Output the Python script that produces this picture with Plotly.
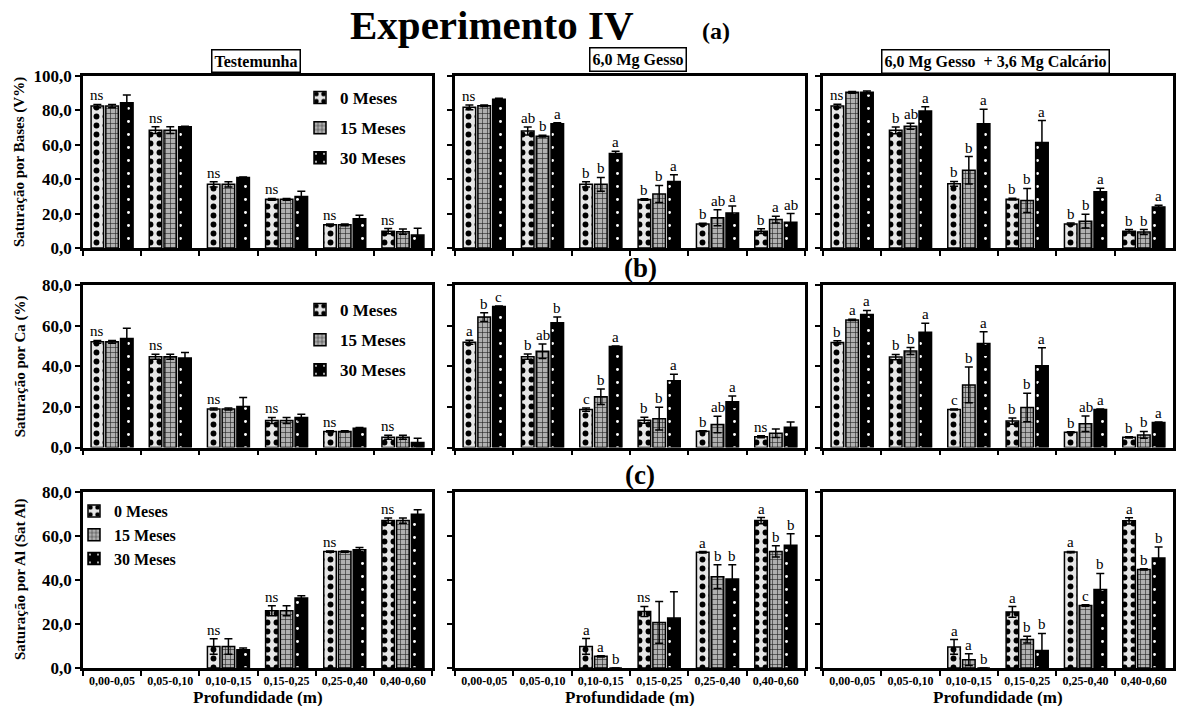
import plotly.graph_objects as go
from plotly.subplots import make_subplots

# Soil layers (m) and sampling times
depths = ["0,00-0,05", "0,05-0,10", "0,10-0,15", "0,15-0,25", "0,25-0,40", "0,40-0,60"]
months = ["0 Meses", "15 Meses", "30 Meses"]
treatments = ["Testemunha", "6,0 Mg Gesso", "6,0 Mg Gesso  + 3,6 Mg Calcário"]

# (a) Saturação por bases, V% -- one inner list per sampling time
vb_test = [[82.5, 68.5, 37.0, 28.3, 13.5, 9.8],
           [82.5, 68.5, 37.0, 28.3, 13.5, 9.5],
           [84.5, 70.5, 41.0, 30.0, 17.0, 7.5]]
eb_test = [[1.0, 2.0, 1.5, 0.5, 0.5, 1.5],
           [1.0, 2.0, 1.5, 0.5, 0.5, 1.5],
           [4.5, 0.3, 0.3, 3.0, 2.0, 4.0]]
lb_test = [["ns", "ns", "ns", "ns", "ns", "ns"], [""] * 6, [""] * 6]

vb_gesso = [[81.8, 68.0, 37.0, 28.2, 13.9, 9.8],
            [82.7, 65.0, 37.0, 31.4, 17.6, 16.5],
            [86.5, 72.3, 55.0, 38.6, 20.4, 15.0]]
eb_gesso = [[1.4, 2.3, 1.5, 0.5, 0.5, 1.4],
            [0.5, 0.5, 4.0, 5.0, 4.7, 2.0],
            [0.5, 0.5, 1.2, 4.0, 4.0, 5.0]]
lb_gesso = [["ns", "ab", "b", "b", "b", "b"],
            ["", "b", "b", "b", "ab", "a"],
            ["", "a", "a", "a", "a", "ab"]]

vb_gc = [[82.6, 68.4, 37.3, 28.4, 14.0, 9.7],
         [90.5, 70.8, 45.2, 27.6, 15.6, 9.3],
         [90.5, 79.7, 72.2, 61.3, 32.7, 23.9]]
eb_gc = [[1.0, 2.0, 1.4, 0.5, 0.5, 1.0],
         [0.5, 1.8, 8.0, 7.0, 4.0, 1.4],
         [0.8, 2.4, 8.5, 12.8, 2.0, 1.0]]
lb_gc = [["ns", "b", "b", "b", "b", "b"],
         ["", "ab", "b", "b", "b", "b"],
         ["", "a", "a", "a", "a", "a"]]

# (b) Saturação por Ca (%)
vc_test = [[52.0, 44.7, 18.9, 13.3, 7.9, 5.0],
           [52.0, 44.7, 18.9, 13.3, 7.9, 5.0],
           [53.7, 44.0, 20.2, 14.8, 9.5, 2.5]]
ec_test = [[0.7, 1.2, 0.5, 1.5, 0.3, 1.0],
           [0.7, 1.2, 0.5, 1.5, 0.3, 1.0],
           [5.0, 2.8, 4.4, 1.6, 0.3, 2.0]]
lc_test = [["ns", "ns", "ns", "ns", "ns", "ns"], [""] * 6, [""] * 6]

vc_gesso = [[51.8, 44.7, 18.7, 13.4, 8.0, 5.3],
            [64.2, 47.4, 25.0, 14.2, 11.3, 7.0],
            [69.4, 61.4, 49.7, 32.8, 22.5, 10.0]]
ec_gesso = [[1.0, 1.3, 0.8, 1.5, 0.3, 0.5],
            [2.2, 3.6, 3.8, 5.6, 4.1, 2.1],
            [0.3, 2.8, 0.3, 3.3, 2.8, 2.5]]
lc_gesso = [["a", "b", "c", "b", "b", "ns"],
            ["b", "ab", "b", "b", "ab", ""],
            ["c", "b", "a", "a", "a", ""]]

vc_gc = [[51.7, 44.5, 18.7, 13.0, 7.5, 5.0],
         [62.8, 47.5, 30.8, 19.7, 11.7, 6.2],
         [65.5, 56.7, 51.2, 40.3, 18.7, 12.3]]
ec_gc = [[0.8, 1.3, 0.3, 1.5, 0.3, 0.3],
         [0.3, 1.7, 8.8, 7.0, 3.8, 1.7],
         [2.0, 4.5, 5.8, 8.8, 0.3, 0.3]]
lc_gc = [["b", "b", "c", "b", "b", "b"],
         ["a", "b", "b", "b", "ab", "b"],
         ["a", "a", "a", "a", "a", "a"]]

# (c) Saturação por Al (Sat Al)
va_test = [[None, None, 9.8, 26.0, 52.9, 67.0],
           [None, None, 9.8, 26.0, 52.9, 67.0],
           [None, None, 8.3, 31.8, 53.8, 69.9]]
ea_test = [[0, 0, 3.5, 2.3, 0.3, 1.2],
           [0, 0, 3.5, 2.3, 0.3, 1.2],
           [0, 0, 0.8, 1.0, 1.0, 2.0]]
la_test = [["", "", "ns", "ns", "ns", "ns"], [""] * 6, [""] * 6]

va_gesso = [[None, None, 9.8, 25.7, 52.6, 67.0],
            [None, None, 5.3, 20.7, 41.5, 53.0],
            [None, None, 0.0, 22.7, 40.4, 55.8]]
ea_gesso = [[0, 0, 3.6, 2.3, 0.3, 1.4],
            [0, 0, 0.3, 9.5, 5.4, 2.6],
            [0, 0, 0.0, 12.0, 6.5, 5.2]]
la_gesso = [["", "", "a", "ns", "a", "a"],
            ["", "", "a", "", "b", "b"],
            ["", "", "b", "", "b", "b"]]

va_gc = [[None, None, 9.6, 25.5, 52.7, 66.9],
         [None, None, 3.8, 12.9, 28.4, 44.8],
         [None, None, 0.0, 7.9, 35.7, 50.0]]
ea_gc = [[0, 0, 3.3, 2.4, 0.3, 1.4],
         [0, 0, 2.7, 1.5, 0.3, 0.3],
         [0, 0, 0.0, 7.8, 7.3, 5.0]]
la_gc = [["", "", "a", "a", "a", "a"],
         ["", "", "a", "b", "c", "b"],
         ["", "", "b", "b", "b", "b"]]

y_titles = ["Saturação por Bases (V%)", "Saturação por Ca (%)", "Saturação por Al (Sat Al)"]
y_max = [100, 80, 80]

panels = [
    [(vb_test, eb_test, lb_test), (vb_gesso, eb_gesso, lb_gesso), (vb_gc, eb_gc, lb_gc)],
    [(vc_test, ec_test, lc_test), (vc_gesso, ec_gesso, lc_gesso), (vc_gc, ec_gc, lc_gc)],
    [(va_test, ea_test, la_test), (va_gesso, ea_gesso, la_gesso), (va_gc, ea_gc, la_gc)],
]

FONT = "Liberation Serif"
W, H = 1177, 706

bar_styles = [
    dict(color="#e6e6e6", line=dict(color="black", width=1.5),
         pattern=dict(shape=".", fgcolor="black", bgcolor="#e6e6e6", fgopacity=1,
                      size=9, solidity=0.33, fillmode="overlay")),
    dict(color="#b0b0b0", line=dict(color="black", width=1.5),
         pattern=dict(shape="+", fgcolor="#202020", bgcolor="#b0b0b0", fgopacity=1,
                      size=5, solidity=0.22, fillmode="overlay")),
    dict(color="black", line=dict(color="black", width=1.5),
         pattern=dict(shape=".", fgcolor="white", bgcolor="black", fgopacity=1,
                      size=13, solidity=0.04, fillmode="overlay")),
]

# pixel boxes of each panel (left, right) and (top, bottom)
col_px = [(83, 432), (455, 805), (823, 1173)]
row_px = [(76, 248), (285, 447.5), (492, 668)]

BARGAP = 0.24
SLOT = (1 - BARGAP) / 3

fig = make_subplots(rows=3, cols=3)
legend_ids = ["legend", "legend2", "legend3"]


def paper_text(px, py, text, size, **extra):
    return dict(x=px / W, y=1 - py / H, xref="paper", yref="paper", text=text,
                showarrow=False, xanchor="center", yanchor="middle",
                font=dict(family=FONT, size=size, color="black", weight="bold"), **extra)


annotations = []
for r in range(3):
    for c in range(3):
        vals, errs, labs = panels[r][c]
        n = r * 3 + c + 1
        xr = "x" if n == 1 else f"x{n}"
        yr = "y" if n == 1 else f"y{n}"
        for k in range(3):
            fig.add_trace(go.Bar(
                x=depths, y=vals[k], name=months[k],
                marker=bar_styles[k],
                error_y=dict(type="data", array=errs[k], color="black", thickness=1.5, width=4),
                showlegend=(c == 0), legend=legend_ids[r],
                legendgroup=f"g{r}{k}",
            ), row=r + 1, col=c + 1)
            for i in range(6):
                if labs[k][i]:
                    v = vals[k][i] or 0
                    annotations.append(dict(
                        x=i + (k - 1) * SLOT, y=v + errs[k][i], xref=xr, yref=yr,
                        text=labs[k][i], showarrow=False, xanchor="center",
                        yanchor="bottom", yshift=-1,
                        font=dict(family=FONT, size=15, color="black")))

        fig.update_xaxes(
            domain=[col_px[c][0] / W, col_px[c][1] / W],
            showline=True, linecolor="black", linewidth=2.5, mirror=True,
            ticks="outside", ticklen=5, tickwidth=1.5, tickcolor="black",
            tickson="boundaries", showgrid=False, automargin=False,
            showticklabels=(r == 2),
            tickfont=dict(family=FONT, size=12, color="black", weight="bold"),
            row=r + 1, col=c + 1)
        fig.update_yaxes(
            domain=[1 - row_px[r][1] / H, 1 - row_px[r][0] / H],
            range=[0, y_max[r]], tickvals=list(range(0, y_max[r] + 1, 20)),
            tickformat=".1f",
            showline=True, linecolor="black", linewidth=2.5, mirror=True,
            ticks="outside", ticklen=5, tickwidth=1.5, tickcolor="black",
            showgrid=False, zeroline=False, automargin=False,
            showticklabels=(c == 0),
            tickfont=dict(family=FONT, size=17, color="black", weight="bold"),
            row=r + 1, col=c + 1)

# axis titles
for r in range(3):
    annotations.append(paper_text(20, (row_px[r][0] + row_px[r][1]) / 2, y_titles[r], 15,
                                  textangle=-90))
for c in range(3):
    annotations.append(paper_text((col_px[c][0] + col_px[c][1]) / 2, 697, "Profundidade (m)", 17))

# treatment boxes
box_pos = [(256, 61), (638, 60), (995, 61)]
for (bx, by), t in zip(box_pos, treatments):
    annotations.append(paper_text(bx, by, t, 16, bordercolor="black", borderwidth=1.5,
                                  borderpad=2, bgcolor="white"))

# figure heading and part letters
annotations += [
    paper_text(492, 25, "Experimento IV", 41),
    paper_text(716, 31, "(a)", 24),
    paper_text(640, 268, "(b)", 27),
    paper_text(640, 475, "(c)", 27),
]

legend_common = dict(bgcolor="rgba(0,0,0,0)", borderwidth=0, xanchor="left", yanchor="top")
leg_font = dict(family=FONT, size=17, color="black", weight="bold")

fig.update_layout(
    width=W, height=H, margin=dict(l=0, r=0, t=0, b=0),
    template="none", paper_bgcolor="white", plot_bgcolor="white",
    barmode="group", bargap=BARGAP, bargroupgap=0.15,
    separators=",.",
    annotations=annotations,
    legend=dict(x=300 / W, y=1 - 80 / H, tracegroupgap=5, font=leg_font, **legend_common),
    legend2=dict(x=300 / W, y=1 - 292 / H, tracegroupgap=5, font=leg_font, **legend_common),
    legend3=dict(x=74 / W, y=1 - 494 / H, tracegroupgap=0,
                 font=dict(family=FONT, size=16, color="black", weight="bold"), **legend_common),
)

fig.write_html("out.html")
